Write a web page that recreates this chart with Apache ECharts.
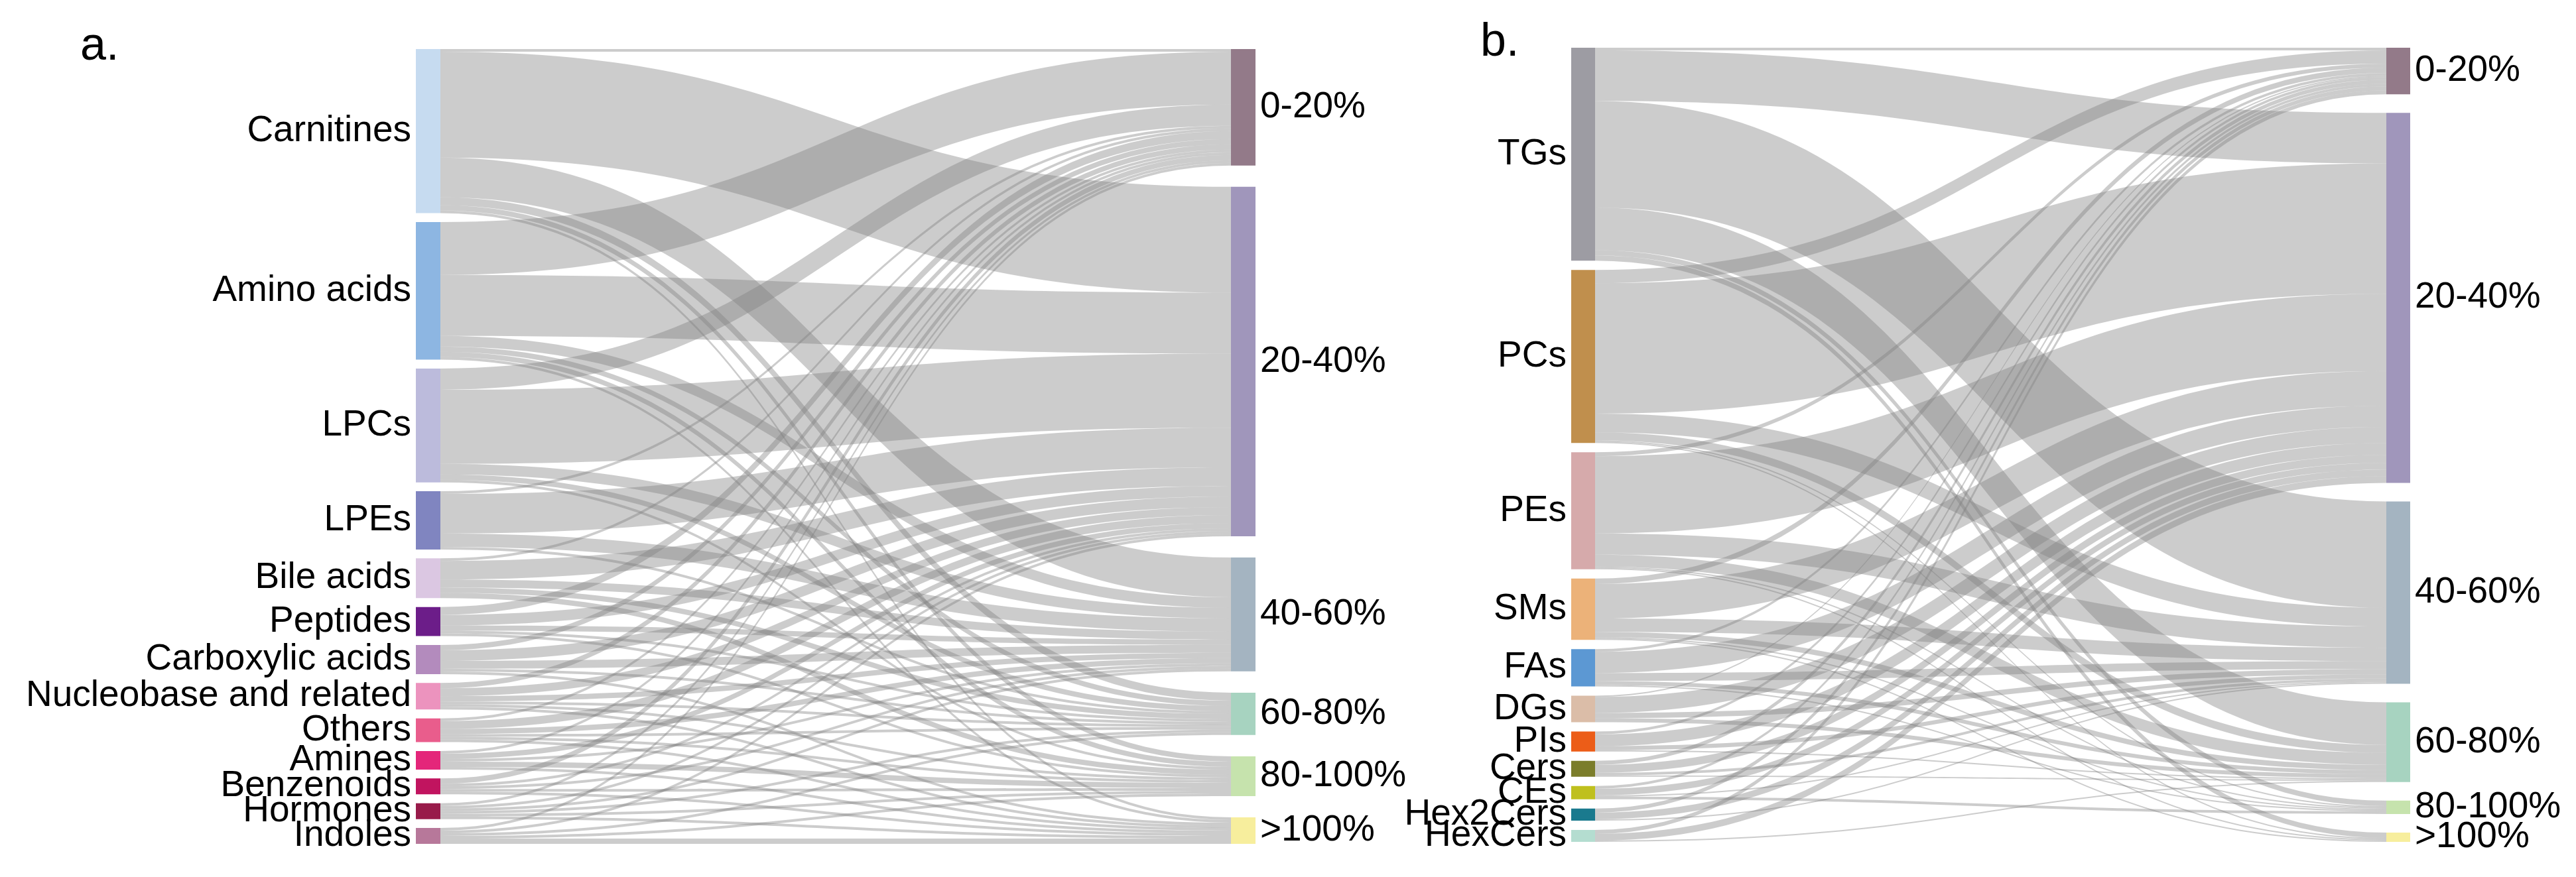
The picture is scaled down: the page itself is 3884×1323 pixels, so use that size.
<!DOCTYPE html>
<html><head><meta charset="utf-8">
<script src="https://cdn.jsdelivr.net/npm/echarts@6/dist/echarts.min.js"></script>
<style>html,body{margin:0;padding:0;background:#fff}#c{width:3884px;height:1323px}</style>
</head><body><div id="c"></div>
<script>
// ---- data ----
const targets = ['0-20%', '20-40%', '40-60%', '60-80%', '80-100%', '>100%'];

const aSources = ['Carnitines', 'Amino acids', 'LPCs', 'LPEs', 'Bile acids', 'Peptides', 'Carboxylic acids',
  'Nucleobase and related', 'Others', 'Amines', 'Benzenoids', 'Hormones', 'Indoles'];
// each row: flows from the source to 0-20%, 20-40%, 40-60%, 60-80%, 80-100%, >100%
const aFlows = [
  [1, 40, 15, 3, 2, 1],
  [20, 23, 4, 2, 2, 1],
  [8, 28, 4, 2, 1, 0],
  [1, 15, 5, 1, 0, 0],
  [1, 7, 3, 2, 2, 0],
  [3, 4, 2, 1, 1, 0],
  [2, 4, 3, 1, 0, 1],
  [2, 3, 2, 1, 1, 1],
  [1, 3, 2, 1, 1, 1],
  [1, 2, 1, 0, 2, 1],
  [2, 1, 1, 0, 1, 1],
  [1, 1, 1, 1, 1, 1],
  [1, 1, 0, 1, 1, 2]
];

const bSources = ['TGs', 'PCs', 'PEs', 'SMs', 'FAs', 'DGs', 'PIs', 'Cers', 'CEs', 'Hex2Cers', 'HexCers'];
const bFlows = [
  [2, 38, 80, 32, 4, 4],
  [10, 98, 14, 6, 1, 1],
  [3, 58, 16, 9, 1, 1],
  [4, 26, 10, 4, 1, 1],
  [2, 16, 6, 3, 1, 0],
  [1, 12, 4, 3, 0, 0],
  [2, 9, 3, 1, 0, 0],
  [3, 6, 2, 1, 0, 0],
  [2, 5, 1, 0, 2, 0],
  [3, 5, 1, 0, 0, 0],
  [3, 5, 0, 1, 0, 0]
];

// ---- styles ----
const targetColors = ['#937a89', '#a096bb', '#a4b4c1', '#a7d3c0', '#c6e3ad', '#f7ee9d'];
const aColors = ['#c6dbf0', '#8db6e2', '#bcbbdc', '#8085c0', '#dbc7e2', '#6c1d89', '#b38bbd',
  '#ec93be', '#e95d8c', '#e4267a', '#c1145f', '#981b4a', '#b7789a'];
const bColors = ['#9d9ca3', '#c08f4d', '#d6aaab', '#ecb279', '#5c98d3', '#dbbda8', '#ec5d18',
  '#7b7d2b', '#bfc01e', '#1a7a8e', '#b4ddd0'];

const FONT = '"Liberation Sans", Arial, sans-serif';

function buildSeries(sources, flows, srcColors, box) {
  let total = 0;
  flows.forEach(r => r.forEach(v => { total += v; }));
  const ky = (box.height - (sources.length - 1) * box.gap) / total;
  const tgtTotals = targets.map((t, j) => flows.reduce((s, r) => s + r[j], 0));
  const rightGap = (box.height - total * ky) / (targets.length - 1);
  let acc = 0;
  const tgtLocalY = tgtTotals.map(v => { const y = acc; acc += v * ky + rightGap; return y / box.height; });

  const data = sources.map((n, i) => ({
    name: n, itemStyle: { color: srcColors[i] }, label: { position: 'left' }
  })).concat(targets.map((n, j) => ({
    name: n, localY: tgtLocalY[j], itemStyle: { color: targetColors[j] }, label: { position: 'right' }
  })));
  const links = [];
  sources.forEach((s, i) => targets.forEach((t, j) => {
    if (flows[i][j] > 0) links.push({ source: s, target: t, value: flows[i][j] });
  }));
  return {
    type: 'sankey',
    left: box.left, top: box.top, width: box.width, height: box.height,
    nodeWidth: box.nodeWidth, nodeGap: box.gap,
    layoutIterations: 0, draggable: false, silent: true,
    emphasis: { disabled: true },
    data: data, links: links,
    itemStyle: { borderWidth: 0 },
    lineStyle: { color: '#808080', opacity: 0.4, curveness: 0.5 },
    label: { show: true, color: '#000', fontSize: 55, fontFamily: FONT, distance: 7 }
  };
}

const chart = echarts.init(document.getElementById('c'), null, { renderer: 'canvas' });
chart.setOption({
  animation: false,
  backgroundColor: '#fff',
  graphic: [
    { type: 'text', left: 121, top: 36, style: { text: 'a.', fontSize: 70, fontFamily: FONT, fill: '#000' } },
    { type: 'text', left: 2232, top: 30, style: { text: 'b.', fontSize: 70, fontFamily: FONT, fill: '#000' } }
  ],
  series: [
    buildSeries(aSources, aFlows, aColors, { left: 627, top: 74, width: 1266, height: 1199, nodeWidth: 37, gap: 13.4 }),
    buildSeries(bSources, bFlows, bColors, { left: 2369, top: 72, width: 1265, height: 1198, nodeWidth: 36, gap: 14 })
  ]
});
</script>
</body></html>
